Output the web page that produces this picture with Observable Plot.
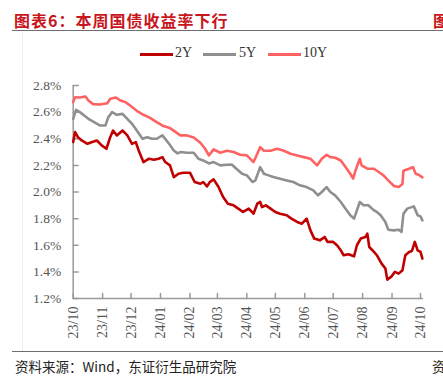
<!DOCTYPE html>
<html><head><meta charset="utf-8">
<script src="https://cdn.jsdelivr.net/npm/d3@7"></script>
<script src="https://cdn.jsdelivr.net/npm/@observablehq/plot@0.6"></script>
<style>
html,body{margin:0;padding:0;background:#fff;}
#wrap{position:relative;width:443px;height:382px;overflow:hidden;background:#fff;}
.cjk{font-family:"Noto Sans CJK SC",sans-serif;position:absolute;white-space:nowrap;}
.title{color:#c8161d;font-size:16px;font-weight:bold;letter-spacing:1px;left:14px;top:8px;}
.rule{position:absolute;left:12px;width:431px;height:0;border-top:1.5px solid #6e6e6e;}
.src{color:#222;font-size:13.5px;left:15px;top:356px;}
#legend{position:absolute;top:45px;left:0;font-family:"Liberation Serif","Times New Roman",serif;font-size:14px;color:#333;}
.lg{position:absolute;white-space:nowrap;}
#chart{position:absolute;left:0;top:40px;}
.frame{position:absolute;top:32px;height:319px;width:0;border-left:1px solid #eeeeee;}
</style></head>
<body>
<div id="wrap">
  <div class="frame" style="left:22px"></div>
  <div class="cjk title">图表6：本周国债收益率下行</div>
  <div class="cjk title" style="left:433px;">图</div>
  <div class="rule" style="top:30px"></div>
  <div id="legend"></div>
  <div id="chart"></div>
  <div class="rule" style="top:351px"></div>
  <div class="cjk src">资料来源：Wind，东证衍生品研究院</div>
  <div class="cjk src" style="left:432px;">资</div>
</div>
<script>
const seriesNames = ["2Y", "5Y", "10Y"];
const seriesColors = ["#c00000", "#8f8f8f", "#ff6262"];

const yTicks = [1.2, 1.4, 1.6, 1.8, 2.0, 2.2, 2.4, 2.6, 2.8];
const xTickDates = ["2023-10-01","2023-11-01","2023-12-01","2024-01-01","2024-02-01","2024-03-01","2024-04-01","2024-05-01","2024-06-01","2024-07-01","2024-08-01","2024-09-01","2024-10-01"];
const xTickLabels = ["23/10","23/11","23/12","24/01","24/02","24/03","24/04","24/05","24/06","24/07","24/08","24/09","24/10"];

const dates10 = ["2023-10-01","2023-10-03","2023-10-08","2023-10-14","2023-10-17","2023-10-22","2023-10-29","2023-11-06","2023-11-09","2023-11-15","2023-11-20","2023-11-25","2023-11-30","2023-12-07","2023-12-14","2023-12-21","2023-12-28","2024-01-04","2024-01-11","2024-01-17","2024-01-22","2024-01-29","2024-02-05","2024-02-12","2024-02-17","2024-02-21","2024-02-26","2024-03-04","2024-03-11","2024-03-18","2024-03-25","2024-04-01","2024-04-08","2024-04-12","2024-04-15","2024-04-19","2024-04-26","2024-05-03","2024-05-10","2024-05-17","2024-05-24","2024-05-31","2024-06-07","2024-06-14","2024-06-19","2024-06-24","2024-06-28","2024-07-03","2024-07-09","2024-07-14","2024-07-19","2024-07-22","2024-07-24","2024-07-29","2024-07-31","2024-08-06","2024-08-13","2024-08-18","2024-08-23","2024-08-28","2024-09-03","2024-09-08","2024-09-12","2024-09-13","2024-09-19","2024-09-23","2024-09-26","2024-09-29","2024-10-03"];
const values10 = [2.675,2.712,2.71,2.717,2.687,2.66,2.657,2.667,2.70,2.71,2.687,2.675,2.65,2.61,2.58,2.557,2.525,2.495,2.48,2.45,2.425,2.425,2.41,2.37,2.325,2.275,2.32,2.295,2.31,2.30,2.28,2.275,2.225,2.287,2.337,2.31,2.31,2.325,2.31,2.287,2.275,2.262,2.25,2.20,2.25,2.28,2.262,2.257,2.237,2.187,2.137,2.10,2.15,2.25,2.20,2.175,2.175,2.15,2.125,2.087,2.045,2.037,2.06,2.16,2.175,2.187,2.137,2.13,2.11];

const dates5 = ["2023-10-01","2023-10-04","2023-10-08","2023-10-14","2023-10-17","2023-10-23","2023-10-29","2023-11-04","2023-11-07","2023-11-11","2023-11-16","2023-11-22","2023-11-27","2023-12-02","2023-12-07","2023-12-13","2023-12-18","2023-12-23","2023-12-28","2024-01-03","2024-01-10","2024-01-15","2024-01-19","2024-01-22","2024-01-29","2024-02-05","2024-02-10","2024-02-15","2024-02-21","2024-02-26","2024-03-04","2024-03-11","2024-03-16","2024-03-21","2024-03-27","2024-04-01","2024-04-07","2024-04-10","2024-04-15","2024-04-19","2024-04-24","2024-04-29","2024-05-06","2024-05-13","2024-05-20","2024-05-27","2024-06-03","2024-06-10","2024-06-15","2024-06-19","2024-06-24","2024-06-28","2024-07-03","2024-07-09","2024-07-14","2024-07-19","2024-07-23","2024-07-26","2024-07-29","2024-08-02","2024-08-07","2024-08-13","2024-08-16","2024-08-20","2024-08-25","2024-08-28","2024-09-03","2024-09-08","2024-09-11","2024-09-13","2024-09-17","2024-09-24","2024-09-28","2024-10-01","2024-10-03"];
const values5 = [2.55,2.617,2.60,2.567,2.55,2.525,2.50,2.50,2.562,2.60,2.58,2.587,2.55,2.512,2.462,2.40,2.412,2.40,2.40,2.425,2.362,2.312,2.29,2.30,2.295,2.295,2.25,2.237,2.215,2.225,2.20,2.205,2.207,2.175,2.137,2.125,2.075,2.087,2.187,2.137,2.125,2.112,2.10,2.087,2.075,2.05,2.037,2.012,1.975,2.00,2.037,2.00,1.975,1.925,1.875,1.825,1.80,1.862,1.925,1.90,1.90,1.862,1.85,1.825,1.775,1.717,1.712,1.717,1.70,1.837,1.875,1.892,1.825,1.817,1.787];

const dates2 = ["2023-10-01","2023-10-03","2023-10-06","2023-10-10","2023-10-16","2023-10-21","2023-10-26","2023-10-31","2023-11-05","2023-11-09","2023-11-12","2023-11-16","2023-11-22","2023-11-27","2023-12-02","2023-12-06","2023-12-09","2023-12-14","2023-12-20","2023-12-25","2023-12-30","2024-01-03","2024-01-06","2024-01-11","2024-01-15","2024-01-20","2024-01-25","2024-02-01","2024-02-06","2024-02-12","2024-02-15","2024-02-19","2024-02-22","2024-02-26","2024-03-02","2024-03-07","2024-03-12","2024-03-18","2024-03-23","2024-03-28","2024-04-03","2024-04-08","2024-04-12","2024-04-15","2024-04-17","2024-04-21","2024-04-26","2024-05-01","2024-05-06","2024-05-13","2024-05-18","2024-05-24","2024-05-29","2024-06-03","2024-06-07","2024-06-11","2024-06-17","2024-06-22","2024-06-25","2024-07-01","2024-07-05","2024-07-09","2024-07-12","2024-07-17","2024-07-23","2024-07-26","2024-07-30","2024-08-04","2024-08-06","2024-08-08","2024-08-13","2024-08-16","2024-08-21","2024-08-25","2024-08-27","2024-08-31","2024-09-04","2024-09-08","2024-09-12","2024-09-15","2024-09-19","2024-09-22","2024-09-25","2024-09-28","2024-10-01","2024-10-03"];
const values2 = [2.375,2.45,2.412,2.387,2.362,2.375,2.387,2.35,2.325,2.412,2.462,2.425,2.462,2.425,2.362,2.375,2.312,2.225,2.25,2.242,2.25,2.262,2.225,2.20,2.112,2.137,2.145,2.145,2.075,2.062,2.075,2.042,2.075,2.095,2.04,1.962,1.912,1.90,1.875,1.85,1.875,1.837,1.912,1.925,1.887,1.90,1.875,1.85,1.837,1.825,1.80,1.775,1.762,1.80,1.712,1.65,1.637,1.662,1.625,1.625,1.60,1.562,1.525,1.532,1.517,1.60,1.65,1.662,1.687,1.587,1.55,1.525,1.462,1.425,1.342,1.362,1.40,1.387,1.412,1.525,1.55,1.557,1.625,1.562,1.55,1.50];

const seriesData = {"2Y": [dates2, values2], "5Y": [dates5, values5], "10Y": [dates10, values10]};
const rows = ["10Y", "5Y", "2Y"].flatMap(name => {
  const [ds, vs] = seriesData[name];
  return ds.map((d, i) => ({date: new Date(d), value: vs[i], series: name}));
});

const xStart = new Date(xTickDates[0]);
const xEnd = new Date(xTickDates[xTickDates.length - 1]);
const xTicks = xTickDates.map(d => new Date(d));
const axisColor = "#9a9a9a";
const serif = "'Liberation Serif','Times New Roman',serif";

const chart = Plot.plot({
  width: 443,
  height: 310,
  marginLeft: 72.7,
  marginRight: 23,
  marginTop: 45,
  marginBottom: 52,
  x: {type: "utc", domain: [xStart, xEnd], label: null},
  y: {domain: [1.2, 2.8], label: null},
  color: {domain: seriesNames, range: seriesColors},
  style: {fontFamily: serif, fontSize: "13.5px", color: "#555", background: "transparent", overflow: "visible"},
  marks: [
    Plot.axisY({ticks: yTicks, tickSize: 0, tickPadding: 12, tickFormat: d => d.toFixed(1) + "%", fill: "#555", label: null}),
    Plot.axisX({ticks: xTicks, tickSize: 0, tickPadding: 8, tickRotate: -90, tickFormat: (d, i) => xTickLabels[i], fill: "#555", fontSize: 14, label: null}),
    Plot.vector(yTicks, {x: () => xStart, y: d => d, length: 5, rotate: 90, anchor: "start", r: 0, stroke: axisColor, strokeWidth: 1.5}),
    Plot.vector(xTicks, {x: d => d, y: () => 1.2, length: 5, rotate: 0, anchor: "start", r: 0, stroke: axisColor, strokeWidth: 1.5}),
    Plot.ruleX([xStart], {y1: 1.2, y2: 2.8, stroke: axisColor, strokeWidth: 1.5}),
    Plot.ruleY([1.2], {x1: xStart, x2: new Date("2024-10-04"), stroke: axisColor, strokeWidth: 1.5}),
    Plot.line(rows, {x: "date", y: "value", z: "series", stroke: "series", strokeWidth: 2.6, strokeLinejoin: "round"})
  ]
});
document.getElementById("chart").appendChild(chart);

// legend
const legendPos = [[140, 175], [203, 239], [268, 303]];
const legend = document.getElementById("legend");
seriesNames.forEach((name, i) => {
  const sw = document.createElement("span");
  sw.className = "lg";
  sw.style.left = legendPos[i][0] + "px";
  sw.style.top = "8px";
  sw.style.width = "33px";
  sw.style.height = "2.6px";
  sw.style.background = seriesColors[i];
  legend.appendChild(sw);
  const t = document.createElement("span");
  t.className = "lg";
  t.style.left = legendPos[i][1] + "px";
  t.style.top = "0px";
  t.textContent = name;
  legend.appendChild(t);
});
</script>
</body></html>
